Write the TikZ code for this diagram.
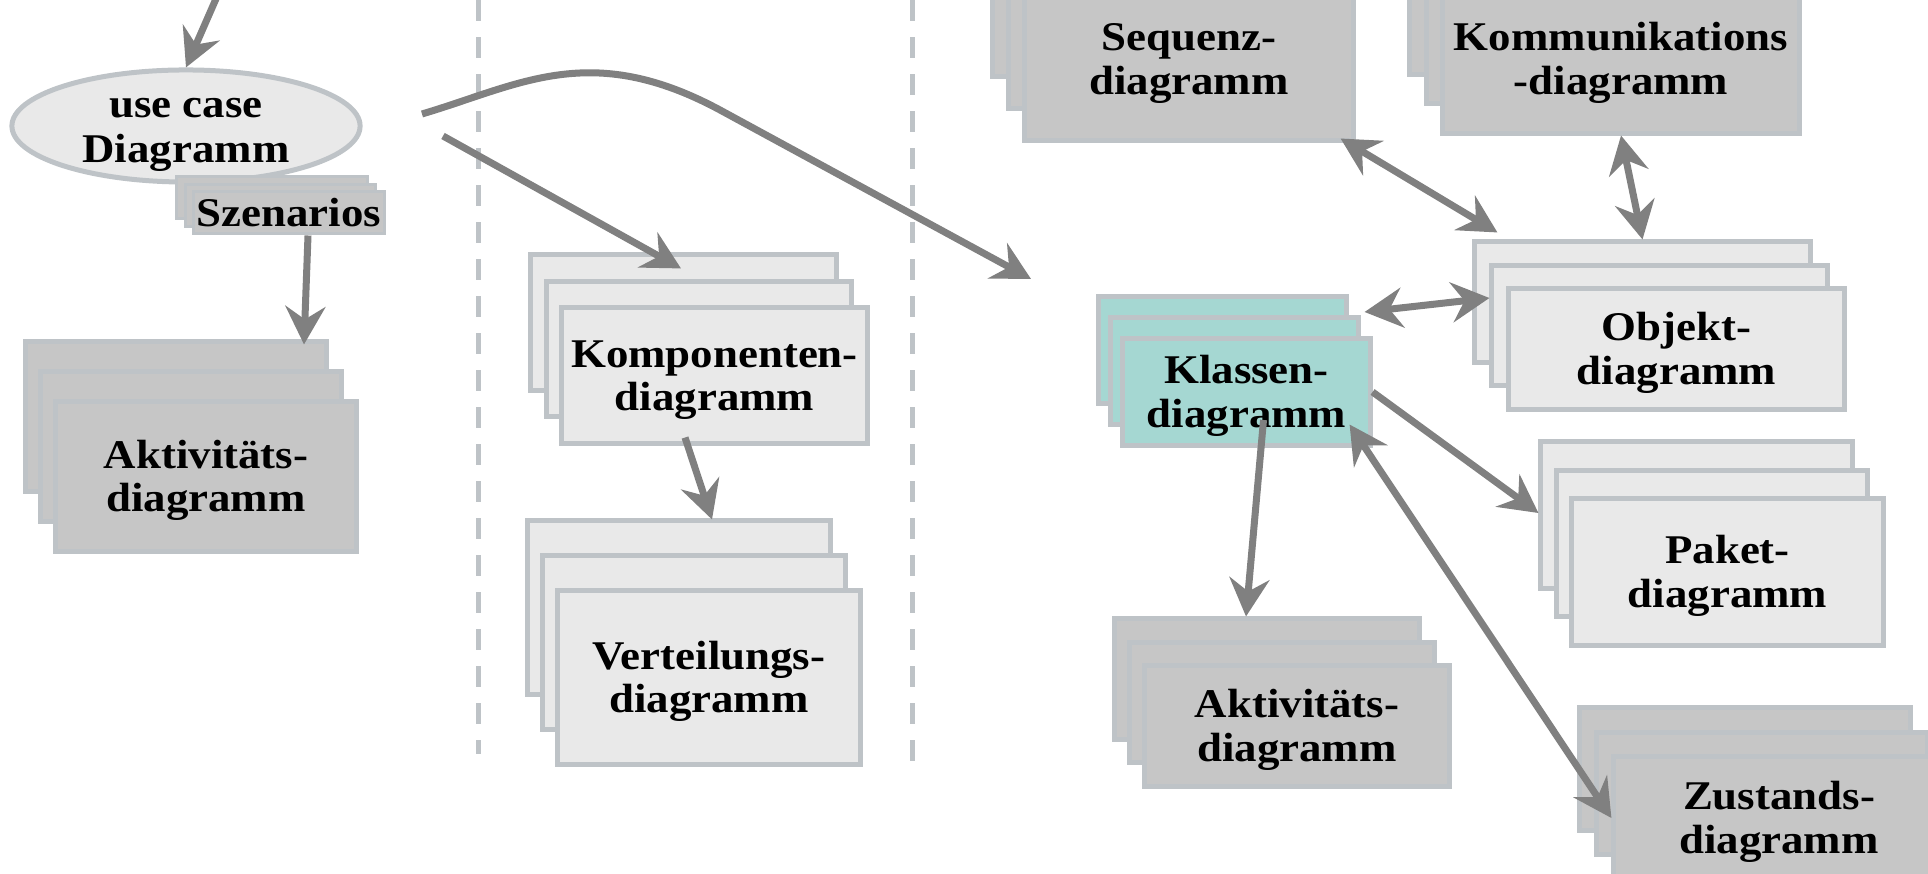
\documentclass[tikz,border=0pt]{standalone}
\usepackage{fontspec}
\usetikzlibrary{arrows.meta,calc,shapes.geometric}

\newfontfamily\boxfont{Liberation Serif}[FakeStretch=1.1]

\definecolor{boxdark}{HTML}{C6C6C6}
\definecolor{boxlight}{HTML}{E9E9E9}
\definecolor{boxedge}{HTML}{BEC3C7}
\definecolor{boxteal}{HTML}{A5D7D2}
\definecolor{arrowgray}{HTML}{808080}

\tikzset{
  diag/.style={draw=boxedge, line width=0.05cm, inner sep=0pt, align=center,
    text height=20pt, text depth=0pt,
    font=\boxfont\bfseries\fontsize{11.6}{12.3}\selectfont},
  dark/.style={diag, fill=boxdark},
  light/.style={diag, fill=boxlight},
  klass/.style={diag, fill=boxteal},
  sep/.style={draw=boxedge, line width=0.05cm, dash pattern=on 0.21cm off 0.16cm},
  link/.style={draw=arrowgray, line width=0.07cm},
  >={Stealth[length=0.38cm,width=0.4cm,inset=0.13cm]}
}

\begin{document}
\begin{tikzpicture}[x=0.01cm, y=-0.01cm]
\useasboundingbox (0,0) rectangle (1928,874);
\clip (0,0) rectangle (1928,874);

% USE CASE

\node[diag, ellipse, fill=boxlight, minimum width=3.48cm, minimum height=1.12cm,
  font=\boxfont\bfseries\fontsize{11.6}{12.8}\selectfont, text height=20.5pt] (uc) at (186,126) {use case\\Diagramm};

\node[dark, line width=0.03cm, text height=7.7pt, minimum width=1.9cm, minimum height=0.42cm] (szen-a) at (272,198) {};
\node[dark, line width=0.03cm, text height=7.7pt, minimum width=1.9cm, minimum height=0.42cm] (szen-b) at (280.5,205.5) {};
\node[dark, line width=0.03cm, text height=7.7pt, minimum width=1.9cm, minimum height=0.42cm] (szen) at (289,213) {Szenarios};

\node[dark, minimum width=3cm, minimum height=1.49cm] (aktL-a) at (176,416.5) {};
\node[dark, minimum width=3cm, minimum height=1.49cm] (aktL-b) at (191,446.5) {};
\node[dark, minimum width=3cm, minimum height=1.49cm] (aktL) at (206,476.5) {Aktivitäts-\\diagramm};

% SEPARATORS

\draw[sep] (478,0) -- (478,754);
\draw[sep] (912,0) -- (912,767);

% COMPONENTS

\node[light, minimum width=3.05cm, minimum height=1.35cm] (komp-a) at (683.5,322.5) {};
\node[light, minimum width=3.05cm, minimum height=1.35cm] (komp-b) at (699,349) {};
\node[light, minimum width=3.05cm, minimum height=1.35cm] (komp) at (714.5,375.5) {Komponenten-\\diagramm};

\node[light, minimum width=3.02cm, minimum height=1.73cm] (vert-a) at (679,607.5) {};
\node[light, minimum width=3.02cm, minimum height=1.73cm] (vert-b) at (694,642.5) {};
\node[light, minimum width=3.02cm, minimum height=1.73cm] (vert) at (709,677.5) {Verteilungs-\\diagramm};

% CLASSES

\node[dark, minimum width=3.28cm, minimum height=1.62cm] (seq-a) at (1157,-5) {};
\node[dark, minimum width=3.28cm, minimum height=1.62cm] (seq-b) at (1173,27) {};
\node[dark, minimum width=3.28cm, minimum height=1.62cm] (seq) at (1189,59) {Sequenz-\\diagramm};

\node[dark, minimum width=3.56cm, minimum height=1.48cm] (kom-a) at (1588,0) {};
\node[dark, minimum width=3.56cm, minimum height=1.48cm] (kom-b) at (1604.5,29.5) {};
\node[dark, minimum width=3.56cm, minimum height=1.48cm] (kom) at (1621,59) {Kommunikations\\-diagramm};

\node[light, minimum width=3.35cm, minimum height=1.2cm] (obj-a) at (1642.5,302) {};
\node[light, minimum width=3.35cm, minimum height=1.2cm] (obj-b) at (1659.5,325.5) {};
\node[light, minimum width=3.35cm, minimum height=1.2cm] (obj) at (1676.5,349) {Objekt-\\diagramm};

\node[klass, minimum width=2.47cm, minimum height=1.06cm] (kla-a) at (1222.5,350) {};
\node[klass, minimum width=2.47cm, minimum height=1.06cm] (kla-b) at (1234.5,371) {};
\node[klass, minimum width=2.47cm, minimum height=1.06cm] (kla) at (1246.5,392) {Klassen-\\diagramm};

\node[light, minimum width=3.11cm, minimum height=1.46cm] (pak-a) at (1696.5,515) {};
\node[light, minimum width=3.11cm, minimum height=1.46cm] (pak-b) at (1712,543.5) {};
\node[light, minimum width=3.11cm, minimum height=1.46cm] (pak) at (1727.5,572) {Paket-\\diagramm};

\node[dark, minimum width=3.04cm, minimum height=1.2cm] (aktR-a) at (1267,679) {};
\node[dark, minimum width=3.04cm, minimum height=1.2cm] (aktR-b) at (1282,702.5) {};
\node[dark, minimum width=3.04cm, minimum height=1.2cm] (aktR) at (1297,726) {Aktivitäts-\\diagramm};

\node[dark, minimum width=3.3cm, minimum height=1.22cm] (zus-a) at (1745,769) {};
\node[dark, minimum width=3.3cm, minimum height=1.22cm] (zus-b) at (1762,793.5) {};
\node[dark, minimum width=3.3cm, minimum height=1.22cm] (zus) at (1779,818) {Zustands-\\diagramm};

% ARROWS

\coordinate (uc-in) at (219,-8);
\coordinate (uc-out1) at (422,114);
\coordinate (uc-out2) at (443,136);
\coordinate (kla-in) at (1031,279);

\draw[link,->] (uc-in) -- (uc.north);
\draw[link,->] ($(szen.south)+(19,0)$) -- ($(aktL-a.north)+(128,5)$);
\draw[link,->] (uc-out1) .. controls (520,85) and (590,40) .. (720,110) -- (kla-in);
\draw[link,->] (uc-out2) -- ($(komp-a.north)+(-2.5,16)$);
\draw[link,->] ($(komp.south)+(-29.5,-8)$) -- ($(vert-a.north)+(33,1)$);

\draw[link,<->] ($(seq.south east)+(-15,-4)$) -- ($(obj-a.north west)+(25,-7)$);
\draw[link,<->] (kom.south) -- (obj-a.north);
\draw[link,<->] ($(kla-a.east)+(16,-38)$) -- ($(obj-b.west)+(0,-27.5)$);
\draw[link,->] ($(kla.center)+(17,28)$) -- ($(aktR-a.north)+(-21,0)$);
\draw[link,->] (kla.east) -- ($(pak-a.west)+(0,-2)$);
\draw[link,<->] ($(kla.south east)+(-23,-23)$) -- (zus.west);

\end{tikzpicture}
\end{document}
